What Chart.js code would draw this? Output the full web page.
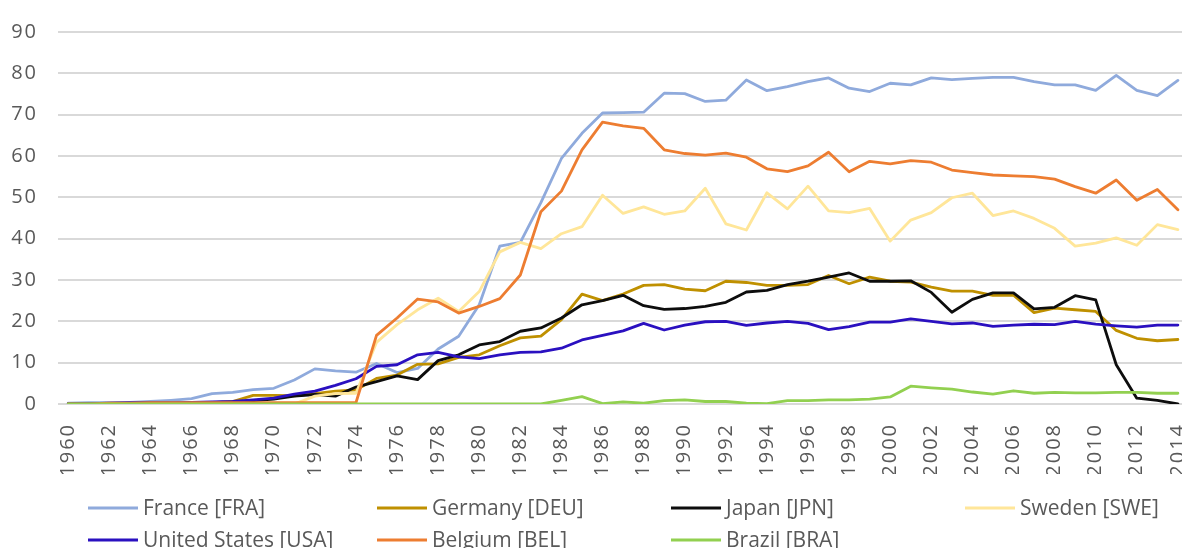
<!DOCTYPE html>
<html>
<head>
<meta charset="utf-8">
<script src="https://cdn.jsdelivr.net/npm/chart.js@4.4.1/dist/chart.umd.min.js"></script>
<style>
  html, body { margin: 0; padding: 0; background: #fff; overflow: hidden; }
  #wrap { width: 1182px; height: 548px; }
</style>
</head>
<body>
<div id="wrap"><canvas id="myChart" width="1182" height="548"></canvas></div>
<script>
// categories
const years = [
  1960, 1961, 1962, 1963, 1964, 1965, 1966, 1967, 1968, 1969,
  1970, 1971, 1972, 1973, 1974, 1975, 1976, 1977, 1978, 1979,
  1980, 1981, 1982, 1983, 1984, 1985, 1986, 1987, 1988, 1989,
  1990, 1991, 1992, 1993, 1994, 1995, 1996, 1997, 1998, 1999,
  2000, 2001, 2002, 2003, 2004, 2005, 2006, 2007, 2008, 2009,
  2010, 2011, 2012, 2013, 2014
];
const tickYears = [
  1960, 1962, 1964, 1966, 1968, 1970, 1972, 1974, 1976, 1978,
  1980, 1982, 1984, 1986, 1988, 1990, 1992, 1994, 1996, 1998,
  2000, 2002, 2004, 2006, 2008, 2010, 2012, 2014
];
const yTicks = [0, 10, 20, 30, 40, 50, 60, 70, 80, 90];

// series values, one per year
const france = [
  0.2, 0.3, 0.3, 0.4, 0.6, 0.9, 1.3, 2.5, 2.8, 3.5,
  3.8, 5.8, 8.5, 8.0, 7.7, 9.8, 7.6, 8.6, 13.3, 16.4,
  24.0, 38.2, 39.1, 48.7, 59.4, 65.5, 70.4, 70.5, 70.6, 75.2,
  75.1, 73.2, 73.5, 78.4, 75.8, 76.8, 78.0, 78.9, 76.4, 75.6,
  77.6, 77.2, 78.9, 78.5, 78.8, 79.0, 79.0, 78.0, 77.2, 77.2,
  75.9, 79.5, 75.9, 74.6, 78.3
];
const germany = [
  0, 0, 0, 0, 0.1, 0.1, 0.2, 0.3, 0.6, 2.1,
  2.1, 2.0, 2.5, 3.1, 3.4, 6.2, 7.0, 9.6, 9.7, 11.3,
  11.9, 14.1, 16.0, 16.4, 20.4, 26.6, 25.0, 26.6, 28.7, 28.9,
  27.8, 27.4, 29.7, 29.4, 28.7, 28.7, 28.9, 31.1, 29.1, 30.7,
  29.7, 29.5, 28.3, 27.3, 27.3, 26.3, 26.3, 22.1, 23.2, 22.8,
  22.4, 17.8, 15.9, 15.3, 15.6
];
const japan = [
  0, 0, 0, 0, 0, 0, 0.1, 0.2, 0.3, 0.8,
  1.2, 1.9, 2.3, 1.9, 4.1, 5.4, 6.8, 5.9, 10.5, 11.9,
  14.3, 15.1, 17.6, 18.4, 20.8, 24.0, 25.0, 26.3, 23.8, 22.9,
  23.1, 23.6, 24.6, 27.1, 27.5, 28.9, 29.7, 30.7, 31.7, 29.7,
  29.7, 29.8, 27.0, 22.2, 25.3, 26.9, 26.9, 23.0, 23.4, 26.2,
  25.2, 9.5, 1.4, 0.9, 0
];
const sweden = [
  0, 0, 0, 0, 0, 0, 0, 0, 0, 0,
  0, 0, 1.9, 2.5, 2.6, 14.9, 19.2, 22.8, 25.6, 22.4,
  27.2, 36.8, 39.1, 37.6, 41.2, 42.9, 50.5, 46.1, 47.7, 45.9,
  46.7, 52.2, 43.6, 42.1, 51.1, 47.2, 52.7, 46.7, 46.3, 47.3,
  39.4, 44.5, 46.3, 49.9, 51.0, 45.6, 46.7, 44.9, 42.5, 38.2,
  38.9, 40.2, 38.4, 43.4, 42.2
];
const unitedStates = [
  0.1, 0.1, 0.2, 0.3, 0.3, 0.3, 0.4, 0.5, 0.6, 1.0,
  1.4, 2.4, 3.1, 4.5, 6.1, 9.1, 9.5, 11.9, 12.5, 11.4,
  11.0, 11.9, 12.5, 12.6, 13.5, 15.5, 16.6, 17.7, 19.5, 17.9,
  19.1, 19.9, 20.0, 19.0, 19.6, 20.0, 19.5, 18.0, 18.7, 19.8,
  19.8, 20.6, 20.0, 19.4, 19.6, 18.8, 19.1, 19.3, 19.2, 20.0,
  19.3, 18.9, 18.6, 19.1, 19.1
];
const belgium = [
  0, 0, 0.2, 0.2, 0.3, 0.3, 0.3, 0.3, 0.3, 0.3,
  0.3, 0.3, 0.3, 0.3, 0.3, 16.6, 20.8, 25.4, 24.7, 22.0,
  23.6, 25.5, 31.2, 46.5, 51.5, 61.5, 68.2, 67.3, 66.7, 61.5,
  60.6, 60.2, 60.7, 59.7, 56.9, 56.2, 57.6, 60.9, 56.2, 58.7,
  58.1, 58.9, 58.5, 56.6, 56.0, 55.4, 55.2, 55.0, 54.4, 52.6,
  51.0, 54.2, 49.3, 51.9, 47.0
];
const brazil = [
  0, 0, 0, 0, 0, 0, 0, 0, 0, 0,
  0, 0, 0, 0, 0, 0, 0, 0, 0, 0,
  0, 0, 0, 0, 0.9, 1.8, 0.1, 0.5, 0.2, 0.8,
  1.0, 0.6, 0.6, 0.2, 0.1, 0.8, 0.8, 1.0, 1.0, 1.2,
  1.7, 4.3, 3.9, 3.6, 2.9, 2.4, 3.2, 2.6, 2.8, 2.7,
  2.7, 2.8, 2.8, 2.6, 2.6
];

const seriesNames = [
  'France [FRA]', 'Germany [DEU]', 'Japan [JPN]', 'Sweden [SWE]',
  'United States [USA]', 'Belgium [BEL]', 'Brazil [BRA]'
];
const seriesData = [france, germany, japan, sweden, unitedStates, belgium, brazil];
const seriesColors = ['#8FAADC', '#BF9000', '#0D0D0D', '#FFE699', '#2A10C0', '#ED7D31', '#92D050'];

const textColor = '#595959';
const fontFamily = '"Open Sans", "Noto Sans", sans-serif';

// legend in a fixed grid under the axis, like the spreadsheet one
const gridLegend = {
  id: 'gridLegend',
  afterDraw(chart) {
    const { ctx } = chart;
    const colX = [88, 377, 671, 965];
    const rowY = [508, 540];
    ctx.save();
    ctx.font = '21px ' + fontFamily;
    ctx.textBaseline = 'middle';
    ctx.textAlign = 'left';
    chart.data.datasets.forEach((ds, i) => {
      const x = colX[i % 4];
      const y = rowY[Math.floor(i / 4)];
      ctx.beginPath();
      ctx.lineWidth = 3;
      ctx.strokeStyle = ds.borderColor;
      ctx.moveTo(x, y);
      ctx.lineTo(x + 50, y);
      ctx.stroke();
      ctx.fillStyle = textColor;
      ctx.fillText(ds.label, x + 55, y + 1);
    });
    ctx.restore();
  }
};

// a bit of letter spacing on the axis labels
const spacedTicks = {
  id: 'spacedTicks',
  beforeDraw(chart) { chart.ctx.letterSpacing = '2px'; },
  beforeDatasetsDraw(chart) { chart.ctx.letterSpacing = '0px'; }
};

const data = {
  labels: years,
  datasets: seriesData.map((values, i) => ({
    label: seriesNames[i],
    data: values,
    borderColor: seriesColors[i],
    backgroundColor: seriesColors[i],
    borderWidth: 2.8,
    pointRadius: 0,
    pointHoverRadius: 0,
    tension: 0,
    borderJoinStyle: 'round',
    borderCapStyle: 'round',
    order: -i
  }))
};

const config = {
  type: 'line',
  data,
  options: {
    responsive: false,
    animation: false,
    layout: {
      padding: { top: 25, bottom: 74, left: 0, right: 0 }
    },
    scales: {
      x: {
        type: 'linear',
        min: 1959.5,
        max: 2014.2,
        afterBuildTicks: (scale) => {
          scale.ticks = tickYears.map(v => ({ value: v }));
        },
        afterFit: (scale) => {
          scale.height = 70;
          scale.paddingLeft = 0;
          scale.paddingRight = 0;
        },
        grid: { display: false },
        border: { display: false },
        ticks: {
          color: textColor,
          font: { family: fontFamily, size: 20 },
          minRotation: 90,
          maxRotation: 90,
          padding: 11,
          autoSkip: false,
          callback: (v) => String(v)
        }
      },
      y: {
        min: 0,
        max: 90,
        afterBuildTicks: (scale) => {
          scale.ticks = yTicks.map(v => ({ value: v }));
        },
        afterFit: (scale) => {
          scale.width = 58;
        },
        grid: { color: '#D9D9D9', lineWidth: 2, drawTicks: false },
        border: { display: false },
        ticks: {
          color: textColor,
          font: { family: fontFamily, size: 20 },
          padding: 20
        }
      }
    },
    plugins: {
      legend: { display: false },
      tooltip: { enabled: false }
    }
  },
  plugins: [spacedTicks, gridLegend]
};

const myChart = new Chart(document.getElementById('myChart'), config);
</script>
</body>
</html>
